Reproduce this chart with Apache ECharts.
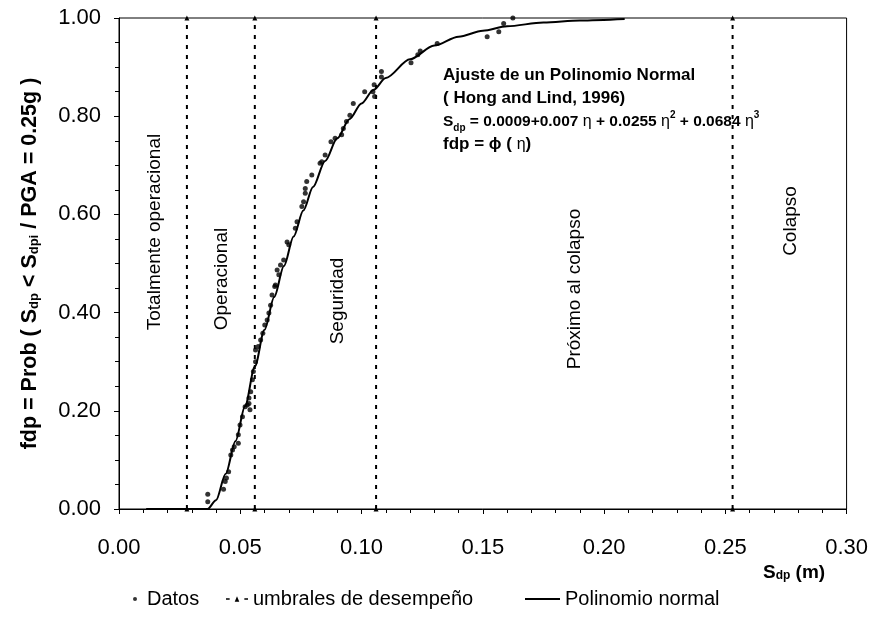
<!DOCTYPE html>
<html>
<head>
<meta charset="utf-8">
<script src="https://cdn.jsdelivr.net/npm/echarts@6/dist/echarts.min.js"></script>
<style>html,body{margin:0;padding:0;background:#fff}#c{width:871px;height:623px}</style>
</head>
<body>
<div id="c"></div>
<script>
// Fitted polynomial-normal curve
const curveX = [0.0112, 0.0365, 0.040, 0.044, 0.048, 0.052, 0.056, 0.060, 0.064, 0.068, 0.072, 0.076, 0.080, 0.085, 0.090, 0.095, 0.100, 0.105, 0.110, 0.120, 0.130, 0.140, 0.150, 0.160, 0.175, 0.190, 0.2085];
const curveY = [0, 0, 0.018, 0.072, 0.138, 0.210, 0.290, 0.365, 0.432, 0.495, 0.555, 0.608, 0.656, 0.709, 0.755, 0.794, 0.826, 0.854, 0.878, 0.916, 0.944, 0.962, 0.974, 0.983, 0.991, 0.995, 0.998];

// Data points (Datos)
const datosX = [0.0366,0.0366,0.0431,0.0438,0.0443,0.0452,0.0461,0.0468,0.0475,0.0492,0.0492,0.0499,0.0509,0.0520,0.0536,0.0540,
  0.0529,0.0536,0.0543,0.0550,0.0554,0.0563,0.0563,0.0574,0.0584,0.0593,0.0601,0.0611,0.0618,0.0625,0.0631,0.0642,
  0.0645,0.0659,0.0652,0.0666,0.0679,0.0693,0.0700,0.0727,0.0734,0.0754,0.0761,0.0768,0.0768,0.0774,0.0795,0.0829,
  0.0836,0.0850,0.0874,0.0891,0.0918,0.0925,0.0938,0.0952,0.0966,0.1013,0.1047,0.1054,0.1052,0.1082,0.1082,
  0.1204,0.1232,0.1242,0.1312,0.1518,0.1566,0.1586,0.1624];
const datosY = [0.030,0.015,0.040,0.056,0.063,0.076,0.110,0.120,0.127,0.134,0.151,0.171,0.188,0.208,0.215,0.202,
  0.212,0.226,0.239,0.263,0.280,0.300,0.324,0.331,0.344,0.358,0.375,0.385,0.399,0.415,0.436,0.453,
  0.456,0.477,0.487,0.497,0.507,0.544,0.538,0.572,0.585,0.616,0.626,0.643,0.653,0.667,0.680,0.704,
  0.707,0.721,0.748,0.755,0.762,0.775,0.789,0.802,0.826,0.850,0.850,0.840,0.864,0.891,0.880,
  0.909,0.925,0.933,0.948,0.962,0.972,0.989,1.000];

// Performance thresholds (umbrales de desempeño)
const umbrales = [0.028, 0.056, 0.106, 0.253];
const zonas = ['Totalmente operacional', 'Operacional', 'Seguridad', 'Próximo al colapso', 'Colapso'];

const xTicks = [0, 0.05, 0.10, 0.15, 0.20, 0.25, 0.30];
const yTicks = [0, 0.2, 0.4, 0.6, 0.8, 1.0];

const FONT = '"Liberation Sans", Arial, sans-serif';
const chart = echarts.init(document.getElementById('c'), null, {renderer: 'canvas'});

const series = [
  {
    name: 'Datos', type: 'scatter', symbol: 'circle', symbolSize: 5,
    itemStyle: {color: '#000'},
    data: datosX.map((x, i) => [x, datosY[i]]), z: 5
  },
  {
    name: 'Polinomio normal', type: 'line', symbol: 'none', smooth: 0.3, smoothMonotone: 'x',
    lineStyle: {color: '#000', width: 2}, itemStyle: {color: '#000'},
    data: curveX.map((x, i) => [x, curveY[i]]), z: 4
  }
];
umbrales.forEach(u => {
  series.push({
    name: 'umbrales de desempeño', type: 'line', symbol: 'triangle', symbolSize: 5,
    lineStyle: {color: '#000', width: 2, type: [4, 6]}, itemStyle: {color: '#000'},
    data: [[u, 0], [u, 1]], z: 3
  });
});

const zonaPos = [[155, 232], [222, 279], [338, 301], [575, 289], [791, 221]];
const graphics = zonas.map((t, i) => ({
  type: 'text', x: zonaPos[i][0], y: zonaPos[i][1], rotation: Math.PI / 2,
  style: {text: t, font: '19px ' + FONT, fill: '#000', textAlign: 'center', textVerticalAlign: 'middle'}
}));
graphics.push({
  type: 'text', left: 443, top: 64,
  style: {
    text: 'Ajuste de un Polinomio Normal\n( Hong and Lind, 1996)\n{eq|S}{sub|dp}{eq| = 0.0009+0.007 }{eta|η}{eq| + 0.0255 }{eta|η}{sup|2}{eq| + 0.0684 }{eta|η}{sup|3}\nfdp = ϕ ( {eta|η})',
    font: 'bold 17px ' + FONT, fill: '#000', lineHeight: 23,
    rich: {
      eq: {font: 'bold 15.5px ' + FONT, fill: '#000', lineHeight: 23},
      eta: {font: '16px ' + FONT, fill: '#000', lineHeight: 23},
      sub: {font: 'bold 10px ' + FONT, fill: '#000', verticalAlign: 'bottom', lineHeight: 14},
      sup: {font: 'bold 10px ' + FONT, fill: '#000', verticalAlign: 'top', lineHeight: 14}
    }
  }
});
graphics.push({
  type: 'text', left: 763, top: 563,
  style: {
    text: 'S{sub|dp} (m)', font: 'bold 19px ' + FONT, fill: '#000',
    rich: {sub: {font: 'bold 12px ' + FONT, fill: '#000', verticalAlign: 'bottom'}}
  }
});

const legendBase = {
  top: 584, textStyle: {fontSize: 20, fontFamily: FONT, color: '#000'}, itemGap: 0,
  selectedMode: false
};
const umbralIcon = 'path://M0,4.25h4v1.5h-4z M9.5,8L12,2L14.5,8z M20,4.25h4v1.5h-4z';

chart.setOption({
  animation: false,
  backgroundColor: '#fff',
  grid: {left: 119, right: 21, top: 18, bottom: 114, show: true, borderColor: '#000', borderWidth: 1},
  xAxis: {
    type: 'value', min: 0, max: 0.3, interval: 0.05,
    axisLine: {lineStyle: {color: '#000'}},
    axisTick: {show: true, length: 5, lineStyle: {color: '#000'}},
    minorTick: {show: true, splitNumber: 5, length: 4, lineStyle: {color: '#000'}},
    splitLine: {show: false},
    axisLabel: {color: '#000', fontSize: 22, fontFamily: FONT, margin: 28,
      formatter: v => xTicks.some(t => Math.abs(t - v) < 1e-9) ? v.toFixed(2) : ''}
  },
  yAxis: {
    type: 'value', min: 0, max: 1, interval: 0.2,
    axisLine: {show: true, lineStyle: {color: '#000'}},
    axisTick: {show: true, length: 5, lineStyle: {color: '#000'}},
    minorTick: {show: true, splitNumber: 4, length: 4, lineStyle: {color: '#000'}},
    splitLine: {show: false},
    axisLabel: {color: '#000', fontSize: 22, fontFamily: FONT, margin: 18,
      formatter: v => yTicks.some(t => Math.abs(t - v) < 1e-9) ? v.toFixed(2) : ''},
    name: 'fdp = Prob ( S{sub|dp} < S{sub|dpi} / PGA = 0.25g )',
    nameLocation: 'middle', nameRotate: 90, nameGap: 78,
    nameTextStyle: {
      fontSize: 21.5, fontWeight: 'bold', fontFamily: FONT, color: '#000',
      rich: {sub: {fontSize: 13, fontWeight: 'bold', fontFamily: FONT, color: '#000', verticalAlign: 'bottom'}}
    }
  },
  legend: [
    Object.assign({}, legendBase, {left: 128, data: [{name: 'Datos', icon: 'circle'}], itemWidth: 14, itemHeight: 4}),
    Object.assign({}, legendBase, {left: 221, data: [{name: 'umbrales de desempeño', icon: umbralIcon}], itemWidth: 22, itemHeight: 6}),
    Object.assign({}, legendBase, {left: 520, data: [{name: 'Polinomio normal', icon: 'rect'}], itemWidth: 35, itemHeight: 2})
  ],
  graphic: graphics,
  series: series
});
</script>
</body>
</html>
